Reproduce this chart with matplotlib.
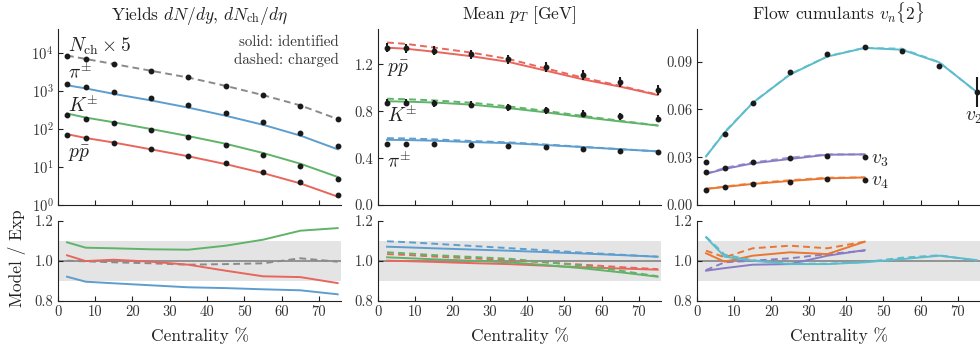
import matplotlib
matplotlib.use("Agg")
import matplotlib.pyplot as plt
from matplotlib.ticker import FixedLocator, NullLocator, FormatStrFormatter, LogFormatterSciNotation

plt.rcParams['font.family'] = ['cmr10', 'DejaVu Serif']
plt.rcParams['mathtext.fontset'] = 'cm'
plt.rcParams['axes.unicode_minus'] = False
plt.rcParams['axes.formatter.use_mathtext'] = True

# ---------------- data ----------------
cent = [2.5, 7.5, 15, 25, 35, 45, 55, 65, 75]
cent_vn = [2.5, 7.5, 15, 25, 35, 45]

# yields dN/dy (identified) and 5 x dNch/deta
nch5 = [8500, 6950, 5130, 3430, 2290, 1380, 785, 411, 183]
pi_yield = [1530, 1300, 942, 641, 420, 258, 150, 78.5, 35]
k_yield = [233, 187, 141, 94, 61.5, 37.9, 21.1, 10.6, 4.7]
p_yield = [71, 58, 43.7, 29.2, 19.5, 12.5, 7.5, 4.03, 1.87]

# model / experiment for yields
nch_ratio = [1.000, 0.997, 0.992, 0.987, 0.980, 0.983, 0.987, 1.012, 0.995]
pi_yield_ratio = [0.920, 0.895, 0.887, 0.877, 0.867, 0.863, 0.857, 0.852, 0.832]
k_yield_ratio = [1.092, 1.065, 1.062, 1.057, 1.055, 1.075, 1.105, 1.150, 1.163]
p_yield_ratio = [1.027, 0.998, 1.005, 0.995, 0.980, 0.950, 0.922, 0.918, 0.888]

# mean pT [GeV]
pt_pi = [0.520, 0.520, 0.517, 0.509, 0.503, 0.491, 0.477, 0.463, 0.449]
pt_k = [0.871, 0.871, 0.869, 0.857, 0.834, 0.809, 0.780, 0.757, 0.737]
pt_p = [1.343, 1.337, 1.317, 1.286, 1.243, 1.177, 1.109, 1.051, 0.983]
pt_pi_err = [0.010] * 9
pt_k_err = [0.030] * 9
pt_p_err = [0.040] * 9

# model / experiment for mean pT (solid: identified, dashed: charged)
pt_pi_ratio_id = [1.070, 1.067, 1.062, 1.056, 1.050, 1.043, 1.036, 1.028, 1.020]
pt_pi_ratio_ch = [1.097, 1.093, 1.085, 1.074, 1.063, 1.052, 1.040, 1.030, 1.020]
pt_k_ratio_id = [1.017, 1.013, 1.007, 1.000, 0.992, 0.978, 0.962, 0.942, 0.920]
pt_k_ratio_ch = [1.042, 1.037, 1.028, 1.019, 1.010, 0.993, 0.975, 0.950, 0.922]
pt_p_ratio_id = [1.000, 0.998, 0.994, 0.988, 0.983, 0.975, 0.967, 0.961, 0.955]
pt_p_ratio_ch = [1.033, 1.029, 1.021, 1.012, 1.003, 0.991, 0.980, 0.968, 0.958]

# flow cumulants vn{2}
v2 = [0.0273, 0.0446, 0.0641, 0.0833, 0.0948, 0.0994, 0.0967, 0.0873, 0.0708]
v2_err = [0, 0, 0, 0, 0, 0, 0, 0, 0.0095]
v3 = [0.0206, 0.0235, 0.0267, 0.0294, 0.0308, 0.0302]
v4 = [0.0097, 0.0114, 0.0129, 0.0145, 0.0162, 0.0158]

v2_ratio_id = [1.117, 1.020, 1.000, 0.983, 0.983, 0.992, 1.008, 1.025, 1.003]
v2_ratio_ch = [1.120, 1.030, 1.002, 0.985, 0.985, 0.993, 1.015, 1.027, 1.000]
v3_ratio_id = [0.950, 0.963, 0.980, 0.983, 1.025, 1.053]
v3_ratio_ch = [0.953, 0.992, 1.000, 1.012, 1.033, 1.050]
v4_ratio_id = [1.037, 0.995, 1.025, 1.042, 1.033, 1.095]
v4_ratio_ch = [1.050, 1.017, 1.062, 1.075, 1.062, 1.095]

# ---------------- style ----------------
C_PI = '#5d9ecf'
C_K = '#5fb46a'
C_P = '#e8665c'
C_CH = '#8a8a8a'
C_V2 = '#5cbccc'
C_V3 = '#8a7cc4'
C_V4 = '#eb7630'
INK = '#222222'
DASH = (3.5, 2.2)
LW = 1.4
TICK_FS = 10.5
TITLE_FS = 12.5
LABEL_FS = 14

W, H = 980, 350
fig = plt.figure(figsize=(W / 100, H / 100), dpi=100)

lefts = [57.7, 377.7, 696.7]
width = 283.7


def px_axes(left, bottom, w, h):
    return fig.add_axes([left / W, bottom / H, w / W, h / H])


def style(ax):
    for s in ('top', 'right'):
        ax.spines[s].set_visible(False)
    for s in ('left', 'bottom'):
        ax.spines[s].set_color(INK)
        ax.spines[s].set_linewidth(0.8)
    ax.tick_params(direction='in', length=3.6, width=0.8, color=INK,
                   labelsize=TICK_FS, labelcolor='#333333', pad=3)
    ax.set_xlim(0, 76)


def product(a, b):
    return [x * y for x, y in zip(a, b)]


main_axes, ratio_axes = [], []
for lx in lefts:
    am = px_axes(lx, 145.0, width, 175.7)
    ar = px_axes(lx, 49.3, width, 80.0)
    style(am)
    style(ar)
    am.xaxis.set_major_locator(FixedLocator(range(0, 80, 10)))
    am.tick_params(axis='x', labelbottom=False)
    ar.axhspan(0.9, 1.1, color='#e4e4e4', zorder=0, lw=0)
    ar.axhline(1.0, color='#8c8c8c', lw=1.3, zorder=1)
    ar.set_ylim(0.8, 1.2)
    ar.yaxis.set_major_locator(FixedLocator([0.8, 1.0, 1.2]))
    ar.yaxis.set_major_formatter(FormatStrFormatter('%.1f'))
    ar.xaxis.set_major_locator(FixedLocator(range(0, 80, 10)))
    ar.xaxis.set_major_formatter(FormatStrFormatter('%d'))
    main_axes.append(am)
    ratio_axes.append(ar)

MS = 3.2
pt_kw = dict(fmt='o', color='#1a1a1a', ms=MS, elinewidth=1.5, capsize=0, zorder=5)

# ---- panel 1: yields ----
ax, axr = main_axes[0], ratio_axes[0]
ax.set_yscale('log')
ax.set_ylim(1, 10 ** 4.62)
ax.yaxis.set_major_locator(FixedLocator([1, 10, 100, 1000, 10000]))
ax.yaxis.set_major_formatter(LogFormatterSciNotation())
ax.yaxis.set_minor_locator(NullLocator())

ax.plot(cent, product(nch5, nch_ratio), color=C_CH, lw=LW, dashes=DASH)
ax.plot(cent, product(pi_yield, pi_yield_ratio), color=C_PI, lw=LW)
ax.plot(cent, product(k_yield, k_yield_ratio), color=C_K, lw=LW)
ax.plot(cent, product(p_yield, p_yield_ratio), color=C_P, lw=LW)
for d in (nch5, pi_yield, k_yield, p_yield):
    ax.plot(cent, d, 'o', color='#1a1a1a', ms=MS, zorder=5)

lab = dict(transform=ax.transAxes, ha='left', va='center', fontsize=LABEL_FS, color=INK)
ax.text(0.037, 0.905, r'$N_{\mathrm{ch}}\times 5$', **lab)
ax.text(0.037, 0.755, r'$\pi^{\pm}$', **lab)
ax.text(0.037, 0.565, r'$K^{\pm}$', **lab)
ax.text(0.037, 0.29, r'$p\bar{p}$', **lab)
ax.text(0.99, 0.965, 'solid: identified\ndashed: charged', transform=ax.transAxes,
        ha='right', va='top', fontsize=10.8, color='#333333', linespacing=1.3)
ax.set_title(r'Yields $dN/dy$, $dN_{\mathrm{ch}}/d\eta$', fontsize=TITLE_FS, pad=7, color=INK)

axr.plot(cent, nch_ratio, color=C_CH, lw=LW, dashes=DASH, zorder=3)
axr.plot(cent, pi_yield_ratio, color=C_PI, lw=LW, zorder=3)
axr.plot(cent, k_yield_ratio, color=C_K, lw=LW, zorder=3)
axr.plot(cent, p_yield_ratio, color=C_P, lw=LW, zorder=3)

# ---- panel 2: mean pT ----
ax, axr = main_axes[1], ratio_axes[1]
ax.set_ylim(0, 1.5)
ax.yaxis.set_major_locator(FixedLocator([0.0, 0.4, 0.8, 1.2]))
ax.yaxis.set_major_formatter(FormatStrFormatter('%.1f'))
for d, e, rid, rch, c in ((pt_p, pt_p_err, pt_p_ratio_id, pt_p_ratio_ch, C_P),
                          (pt_k, pt_k_err, pt_k_ratio_id, pt_k_ratio_ch, C_K),
                          (pt_pi, pt_pi_err, pt_pi_ratio_id, pt_pi_ratio_ch, C_PI)):
    ax.plot(cent, product(d, rch), color=c, lw=LW, dashes=DASH)
    ax.plot(cent, product(d, rid), color=c, lw=LW)
    ax.errorbar(cent, d, yerr=e, **pt_kw)
    axr.plot(cent, rch, color=c, lw=LW, dashes=DASH, zorder=3)
    axr.plot(cent, rid, color=c, lw=LW, zorder=3)

lab = dict(transform=ax.transAxes, ha='left', va='center', fontsize=LABEL_FS, color=INK)
ax.text(0.032, 0.775, r'$p\bar{p}$', **lab)
ax.text(0.032, 0.51, r'$K^{\pm}$', **lab)
ax.text(0.032, 0.25, r'$\pi^{\pm}$', **lab)
ax.set_title(r'Mean $p_T$ [GeV]', fontsize=TITLE_FS, pad=7, color=INK)

# ---- panel 3: flow ----
ax, axr = main_axes[2], ratio_axes[2]
ax.set_ylim(0, 0.1103)
ax.yaxis.set_major_locator(FixedLocator([0.0, 0.03, 0.06, 0.09]))
ax.yaxis.set_major_formatter(FormatStrFormatter('%.2f'))
for x, d, e, rid, rch, c in ((cent, v2, v2_err, v2_ratio_id, v2_ratio_ch, C_V2),
                             (cent_vn, v3, None, v3_ratio_id, v3_ratio_ch, C_V3),
                             (cent_vn, v4, None, v4_ratio_id, v4_ratio_ch, C_V4)):
    ax.plot(x, product(d, rid), color=c, lw=LW)
    ax.plot(x, product(d, rch), color=c, lw=LW, dashes=DASH, alpha=0.8)
    ax.errorbar(x, d, yerr=e, **pt_kw)

for x, rid, rch, c in ((cent_vn, v3_ratio_id, v3_ratio_ch, C_V3),
                       (cent_vn, v4_ratio_id, v4_ratio_ch, C_V4),
                       (cent, v2_ratio_id, v2_ratio_ch, C_V2)):
    axr.plot(x, rch, color=c, lw=LW, dashes=DASH, zorder=3)
    axr.plot(x, rid, color=c, lw=LW, zorder=3)

lab = dict(transform=ax.transAxes, ha='left', va='center', fontsize=LABEL_FS, color=INK)
ax.text(0.945, 0.50, r'$v_2$', clip_on=False, **lab)
ax.text(0.613, 0.256, r'$v_3$', **lab)
ax.text(0.613, 0.133, r'$v_4$', **lab)
ax.set_title(r'Flow cumulants $v_n\{2\}$', fontsize=TITLE_FS, pad=7, color=INK)

# ---- shared labels ----
fig.text(0.017, (H - 258) / H, 'Model / Exp', rotation=90, ha='center', va='center',
         fontsize=12.5, color=INK)
for lx in lefts:
    fig.text((lx + width / 2) / W, (H - 336) / H, 'Centrality %', ha='center',
             va='center', fontsize=12.5, color=INK)

fig.savefig('out.png', dpi=100)
